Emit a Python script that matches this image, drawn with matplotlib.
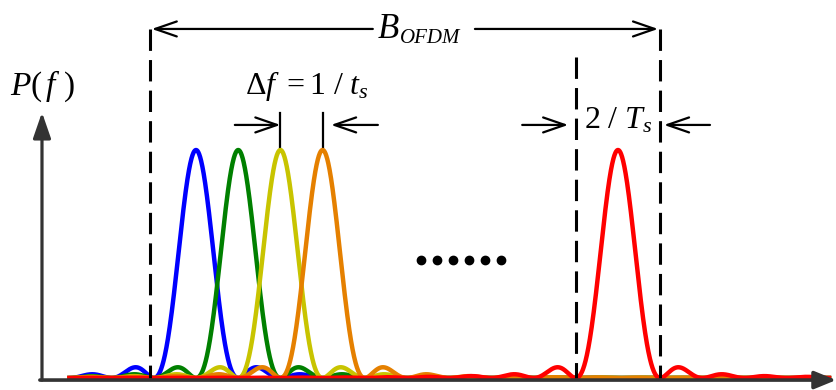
import numpy as np
import matplotlib
matplotlib.use('Agg')
import matplotlib.pyplot as plt

plt.rcParams['font.family'] = ['Liberation Serif', 'DejaVu Serif']
plt.rcParams['mathtext.fontset'] = 'custom'
plt.rcParams['mathtext.rm'] = 'Liberation Serif'
plt.rcParams['mathtext.it'] = 'Liberation Serif:italic'

# subcarrier centres (in units of delta f) and their colours
subcarriers = [0, 1, 2, 3, 10]
colors = ['#0000ff', '#008000', '#c8c400', '#e58000', '#ff0000']
dot_positions = [5.33, 5.71, 6.09, 6.47, 6.85, 7.23]

fig = plt.figure(figsize=(8.37, 3.90), dpi=100)
ax = fig.add_axes([0, 0, 1, 1])
ax.set_xlim(-4.645, 15.19)
ax.set_ylim(-0.0526, 1.658)
ax.axis('off')

# sinc^2 spectrum of each subcarrier
f = np.linspace(-3, 15, 3000)
for fc, c in zip(subcarriers, colors):
    ax.plot(f, np.sinc(f - fc) ** 2, color=c, lw=3.2, zorder=3)

# axes with arrows
axis_col = '#333333'
ax.annotate('', xy=(-3.65, 1.165), xytext=(-3.65, -0.009),
            arrowprops=dict(arrowstyle='-|>,head_length=1.3,head_width=0.45', lw=2.3,
                            color=axis_col, mutation_scale=12, shrinkA=0, shrinkB=0), zorder=5)
ax.annotate('', xy=(15.17, -0.009), xytext=(-3.70, -0.009),
            arrowprops=dict(arrowstyle='-|>,head_length=1.1,head_width=0.45', lw=2.6,
                            color=axis_col, mutation_scale=12, shrinkA=0, shrinkB=0), zorder=5)

# band limits
left_edge = subcarriers[0] - 1.1
right_edge = subcarriers[-1] + 1
dash_kw = dict(color='black', lw=2.2, dashes=(7, 3), zorder=4)
ax.plot([left_edge, left_edge], [1.531, 0.0], **dash_kw)
ax.plot([right_edge, right_edge], [1.531, 0.0], **dash_kw)
ax.plot([subcarriers[-1] - 1, subcarriers[-1] - 1], [1.408, 0.0], **dash_kw)

arrow_kw = dict(arrowstyle='->,head_length=1.3,head_width=0.45', lw=1.6, color='black',
                mutation_scale=12, shrinkA=0, shrinkB=0)

# B_OFDM (subscript placed by hand so it sits a little lower)
ax.annotate('', xy=(left_edge + 0.05, 1.531), xytext=(4.19, 1.531), arrowprops=arrow_kw)
ax.annotate('', xy=(right_edge - 0.05, 1.531), xytext=(6.61, 1.531), arrowprops=arrow_kw)
ax.text(4.31, 1.49, 'B', fontsize=25, style='italic', ha='left', va='baseline')
ax.text(4.84, 1.47, 'OFDM', fontsize=15, style='italic', ha='left', va='baseline')

# subcarrier spacing
for fc in subcarriers[2:4]:
    ax.plot([fc, fc], [1.0, 1.162], color='black', lw=1.6)
ax.annotate('', xy=(2.0, 1.11), xytext=(0.92, 1.11), arrowprops=arrow_kw)
ax.annotate('', xy=(3.2, 1.11), xytext=(4.31, 1.11), arrowprops=arrow_kw)
ax.text(2.63, 1.28, r'$\Delta f\ = 1\ /\ t_s$', fontsize=23, ha='center', va='center')

# main lobe width
ax.annotate('', xy=(8.82, 1.11), xytext=(7.73, 1.11), arrowprops=arrow_kw)
ax.annotate('', xy=(11.09, 1.11), xytext=(12.18, 1.11), arrowprops=arrow_kw)
ax.text(10.0, 1.13, r'$2\ /\ T_s$', fontsize=23, ha='center', va='center')

# P(f) label
ax.text(-3.65, 1.28, r'$P(\,f\ )$', fontsize=24, ha='center', va='center')

# ellipsis
ax.plot(dot_positions, [0.518] * len(dot_positions), 'o', color='black', ms=6)

fig.savefig('out.png', dpi=100)
